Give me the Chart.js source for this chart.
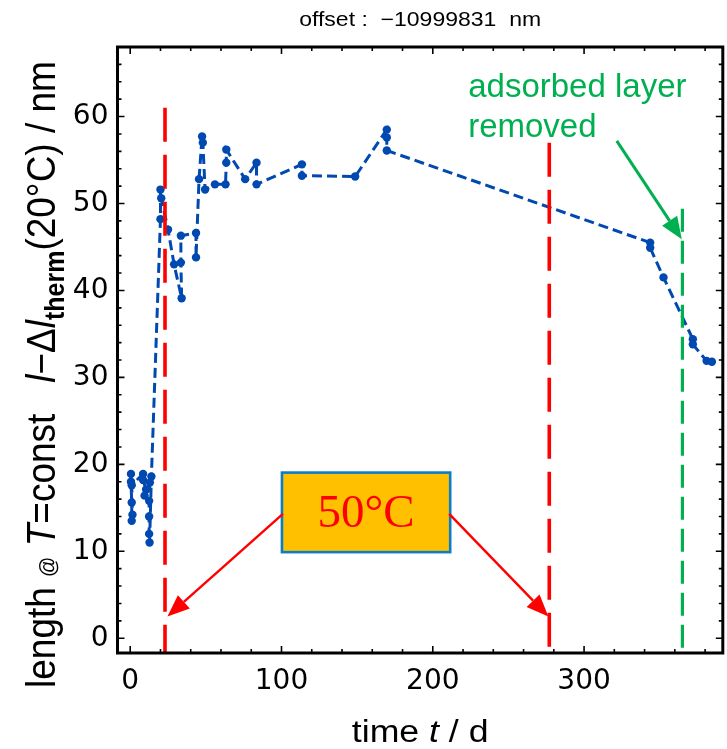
<!DOCTYPE html>
<html>
<head>
<meta charset="utf-8">
<script src="https://cdn.jsdelivr.net/npm/chart.js@4/dist/chart.umd.min.js"></script>
<style>
  html, body { margin: 0; padding: 0; background: #fff; }
  #wrap { width: 727px; height: 749px; }
</style>
</head>
<body>
<div id="wrap"><canvas id="c" width="727" height="749"></canvas></div>
<script>
// Measurement days (d) and length at T = const minus thermal part (nm)
const days = [
  0.5, 0.5, 1.0, 1.0, 1.5, 1.0, 8.5, 8.5, 10.5, 9.5, 13.0, 12.5, 12.5, 12.5, 12.8, 14.0,
  20.0, 20.0, 20.5, 25.0, 29.0, 34.0, 33.5, 33.5, 43.5, 43.5,
  45.5, 47.5, 48.0, 49.5, 56.0, 63.0, 63.5, 63.5, 76.0, 83.5, 83.5,
  113.5, 113.5, 148.7, 169.6, 169.6, 169.6,
  343.7, 343.7, 352.5, 371.9, 371.9, 381.0, 384.5
];
const lengthNm = [
  18.9, 18.0, 15.6, 13.5, 14.2, 17.6, 18.9, 18.2, 17.1, 16.4, 17.9, 15.8, 14.0, 12.0, 11.0, 18.6,
  48.2, 51.6, 50.6, 47.0, 43.0, 39.1, 43.2, 46.3, 46.6, 43.8,
  52.8, 57.7, 57.0, 51.6, 52.2, 52.2, 54.7, 56.2, 52.8, 54.7, 52.2,
  54.5, 53.2, 53.1, 58.5, 57.6, 56.1,
  45.5, 44.9, 41.5, 34.4, 33.8, 31.9, 31.8
];

const xTickValues = [0, 100, 200, 300];
const yTickValues = [0, 10, 20, 30, 40, 50, 60];

// 50 °C heating: start and end day, with the top of each marker line (nm)
const heatingDays = [23, 277];
const heatingLineTops = [61.0, 57.0];
// day the adsorbed layer was removed, with the span of its marker line (nm)
const removalDay = 365;
const removalLineSpan = [-1.5, 49.4];

const BLUE = '#0049B0';
const RED = '#FF0000';
const GREEN = '#00B050';
const SANS = '"Liberation Sans", Arial, sans-serif';

function arrow(ctx, x1, y1, x2, y2, color, lw, headLen, headHalf) {
  const a = Math.atan2(y2 - y1, x2 - x1);
  const bx = x2 - headLen * Math.cos(a), by = y2 - headLen * Math.sin(a);
  ctx.save();
  ctx.strokeStyle = color; ctx.fillStyle = color; ctx.lineWidth = lw;
  ctx.setLineDash([]);
  ctx.beginPath(); ctx.moveTo(x1, y1); ctx.lineTo(bx, by); ctx.stroke();
  ctx.beginPath();
  ctx.moveTo(x2, y2);
  ctx.lineTo(bx + headHalf * Math.sin(a), by - headHalf * Math.cos(a));
  ctx.lineTo(bx - headHalf * Math.sin(a), by + headHalf * Math.cos(a));
  ctx.closePath(); ctx.fill();
  ctx.restore();
}

// text drawn with a horizontal stretch, as on the axis labels
function stretchedRuns(ctx, runs, x, y, sx, align) {
  ctx.save();
  let w = 0;
  runs.forEach(r => { ctx.font = r.font; w += ctx.measureText(r.text).width; });
  ctx.translate(x, y);
  ctx.scale(sx, 1);
  let cx = align === 'center' ? -w / 2 : 0;
  ctx.textBaseline = 'alphabetic';
  ctx.textAlign = 'left';
  runs.forEach(r => {
    ctx.font = r.font;
    ctx.fillStyle = r.color || '#000';
    ctx.fillText(r.text, cx, r.dy || 0);
    cx += ctx.measureText(r.text).width;
  });
  ctx.restore();
}

const framePlugin = {
  id: 'frame',
  afterDatasetsDraw(chart) {
    const { ctx, chartArea: a, scales: { x, y } } = chart;
    ctx.save();
    ctx.strokeStyle = '#000';
    ctx.lineWidth = 1.6;
    // inward frame ticks on all four sides
    for (let d = 0; d <= 380; d += 20) {
      const px = x.getPixelForValue(d);
      const len = d % 100 === 0 ? 7 : 4;
      ctx.beginPath();
      ctx.moveTo(px, a.bottom); ctx.lineTo(px, a.bottom - len);
      ctx.moveTo(px, a.top); ctx.lineTo(px, a.top + len);
      ctx.stroke();
    }
    for (let v = 0; v <= 66; v += 2) {
      const py = y.getPixelForValue(v);
      const len = v % 10 === 0 ? 7 : 4;
      ctx.beginPath();
      ctx.moveTo(a.left, py); ctx.lineTo(a.left + len, py);
      ctx.moveTo(a.right, py); ctx.lineTo(a.right - len, py);
      ctx.stroke();
    }
    ctx.restore();
  },
  afterDraw(chart) {
    const { ctx, chartArea: a, scales: { x, y } } = chart;
    const X = v => x.getPixelForValue(v), Y = v => y.getPixelForValue(v);

    // heating start / end
    ctx.save();
    ctx.strokeStyle = RED; ctx.lineWidth = 3.6;
    ctx.setLineDash([34, 13]);
    heatingDays.forEach((d, i) => {
      ctx.beginPath();
      ctx.moveTo(X(d), Y(heatingLineTops[i]));
      ctx.lineTo(X(d), a.bottom);
      ctx.stroke();
    });
    // adsorbed layer removed
    ctx.strokeStyle = GREEN; ctx.lineWidth = 3.2;
    ctx.setLineDash([23, 9]);
    ctx.beginPath();
    ctx.moveTo(X(removalDay), Y(removalLineSpan[1]));
    ctx.lineTo(X(removalDay), Y(removalLineSpan[0]));
    ctx.stroke();
    ctx.restore();

    // frame
    ctx.save();
    ctx.strokeStyle = '#000'; ctx.lineWidth = 3;
    ctx.strokeRect(a.left, a.top, a.right - a.left, a.bottom - a.top);
    ctx.restore();

    // 50 °C box and arrows
    const bx1 = X(100.3), bx2 = X(211.5), by1 = Y(19.05), by2 = Y(9.9);
    ctx.save();
    ctx.fillStyle = '#FFC000';
    ctx.fillRect(bx1, by1, bx2 - bx1, by2 - by1);
    ctx.strokeStyle = '#0A7CC8'; ctx.lineWidth = 2.6;
    ctx.strokeRect(bx1, by1, bx2 - bx1, by2 - by1);
    ctx.fillStyle = RED;
    ctx.font = '47px "Liberation Serif", "Times New Roman", serif';
    ctx.textAlign = 'center'; ctx.textBaseline = 'alphabetic';
    ctx.fillText('50°C', (bx1 + bx2) / 2, Y(12.8));
    ctx.restore();
    arrow(ctx, bx1 + 1, Y(14.3), X(24.6), Y(2.5), RED, 2.4, 22, 9);
    arrow(ctx, bx2 - 1, Y(14.3), X(276.4), Y(2.5), RED, 2.4, 22, 9);

    // adsorbed layer note
    ctx.save();
    ctx.fillStyle = GREEN;
    ctx.font = '33px ' + SANS;
    ctx.textAlign = 'left'; ctx.textBaseline = 'alphabetic';
    ctx.fillText('adsorbed layer', X(223.4), Y(62.3));
    ctx.fillText('removed', X(223.4), Y(57.6));
    ctx.restore();
    arrow(ctx, X(321.6), Y(57.2), X(364.6), Y(45.9), GREEN, 3, 22, 9);

    // header
    stretchedRuns(ctx, [{ text: 'offset :  \u221210999831  nm', font: '20px ' + SANS }],
      (a.left + a.right) / 2, 26, 1.15, 'center');

    // x axis title
    stretchedRuns(ctx, [
      { text: 'time ', font: '31px ' + SANS },
      { text: 't', font: 'italic 31px ' + SANS },
      { text: ' / d', font: '31px ' + SANS }
    ], (a.left + a.right) / 2, 742, 1.15, 'center');

    // y axis title (rotated)
    const F = 37;
    const runs = [
      { text: 'length ', font: F + 'px ' + SANS },
      { text: '@', font: '20px ' + SANS },
      { text: ' ', font: F + 'px ' + SANS },
      { text: 'T', font: 'italic ' + F + 'px ' + SANS },
      { text: '=const   ', font: F + 'px ' + SANS },
      { text: 'l', font: 'italic ' + F + 'px ' + SANS },
      { text: '\u2212\u0394', font: F + 'px ' + SANS },
      { text: 'l', font: 'italic ' + F + 'px ' + SANS },
      { text: 'therm', font: 'bold 25px ' + SANS, dy: 8 },
      { text: '(20°C) / nm', font: F + 'px ' + SANS }
    ];
    ctx.save();
    ctx.translate(55, 688);
    ctx.rotate(-Math.PI / 2);
    ctx.scale(1, 1.1);
    let cx = 0;
    ctx.fillStyle = '#000';
    ctx.textBaseline = 'alphabetic'; ctx.textAlign = 'left';
    runs.forEach(r => {
      ctx.font = r.font;
      ctx.fillText(r.text, cx, r.dy || 0);
      cx += ctx.measureText(r.text).width;
    });
    ctx.restore();
  }
};

new Chart(document.getElementById('c').getContext('2d'), {
  type: 'scatter',
  data: {
    datasets: [{
      data: days.map((d, i) => ({ x: d, y: lengthNm[i] })),
      showLine: true,
      borderColor: BLUE,
      backgroundColor: BLUE,
      borderWidth: 3,
      borderDash: [10, 5],
      pointRadius: 4.2,
      pointBorderWidth: 0,
      pointHoverRadius: 0,
      tension: 0
    }]
  },
  options: {
    responsive: false,
    animation: false,
    devicePixelRatio: 1,
    layout: { padding: { left: 0, right: 4, top: 47, bottom: 0 } },
    plugins: { legend: { display: false }, tooltip: { enabled: false }, title: { display: false } },
    scales: {
      x: {
        type: 'linear', min: -8.4, max: 391.7,
        afterBuildTicks: s => { s.ticks = xTickValues.map(v => ({ value: v })); },
        afterFit: s => { s.height = 96; },
        grid: { display: false, drawTicks: false },
        border: { display: false },
        ticks: { color: '#000', font: { family: '"DejaVu Sans"', size: 28 }, padding: 12, maxRotation: 0, autoSkip: false }
      },
      y: {
        type: 'linear', min: -1.7, max: 68,
        afterBuildTicks: s => { s.ticks = yTickValues.map(v => ({ value: v })); },
        afterFit: s => { s.width = 117.5; },
        grid: { display: false, drawTicks: false },
        border: { display: false },
        ticks: { color: '#000', font: { family: '"DejaVu Sans"', size: 28 }, padding: 9, autoSkip: false }
      }
    }
  },
  plugins: [framePlugin]
});
</script>
</body>
</html>
